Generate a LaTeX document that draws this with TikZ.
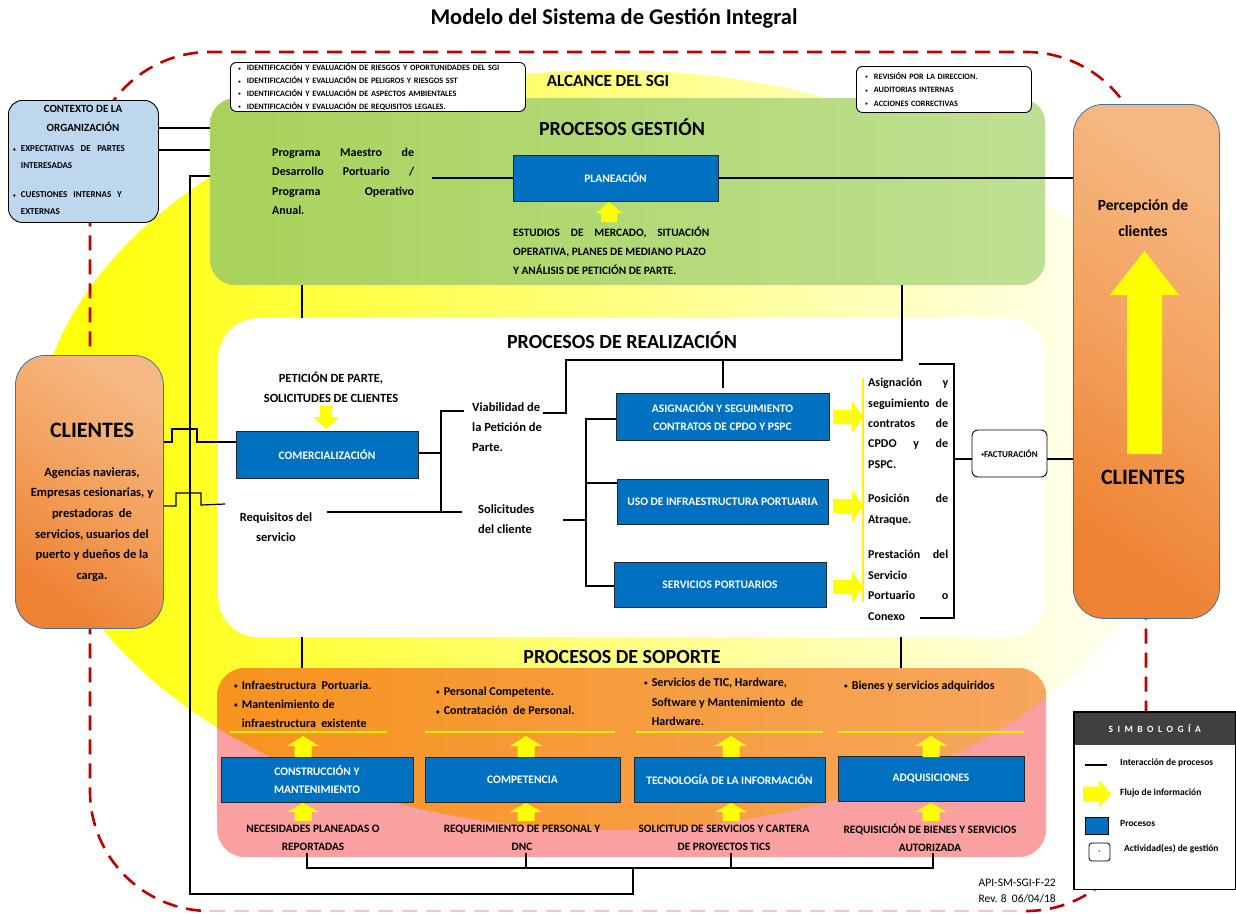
\documentclass[tikz,border=0pt]{standalone}
\usepackage{fontspec}
\usepackage{graphicx}
\setmainfont{Carlito}
\definecolor{procblue}{HTML}{0070C0}
\definecolor{ctxblue}{HTML}{BDD7EE}
\definecolor{gL}{HTML}{A8D25A}
\definecolor{gR}{HTML}{BEE093}
\definecolor{pinkc}{HTML}{FAA0A0}
\definecolor{orL}{HTML}{F7931E}
\definecolor{orR}{HTML}{F6A65E}
\definecolor{redd}{HTML}{C00000}
\definecolor{pinkd}{HTML}{F6C4C4}
\definecolor{oDark}{HTML}{EE8232}
\definecolor{oMid}{HTML}{F3A05C}
\definecolor{oLight}{HTML}{F6B882}
\definecolor{bord}{HTML}{41719C}
\definecolor{legdark}{HTML}{404040}
\definecolor{arrowy}{HTML}{FFFF00}
\newcommand\jline[2]{\makebox[#1][s]{#2}}
\newcommand\bul{\raisebox{0.12ex}{\scalebox{0.6}{\textbullet}}}
\newcommand\yup[6]{\fill[arrowy] (#1,#2) -- ({#1+#5},#3) -- ({#1+#6},#3) -- ({#1+#6},#4) -- ({#1-#6},#4) -- ({#1-#6},#3) -- ({#1-#5},#3) -- cycle;}
\newcommand\yright[6]{\fill[arrowy] (#2,#1) -- (#3,{#1-#5}) -- (#3,{#1-#6}) -- (#4,{#1-#6}) -- (#4,{#1+#6}) -- (#3,{#1+#6}) -- (#3,{#1+#5}) -- cycle;}
\begin{document}
\begin{tikzpicture}[x=1pt,y=-1pt,
  conn/.style={draw=black, line width=1.4pt},
  proc/.style={draw=black!85, line width=0.9pt, fill=procblue, text=white, font=\bfseries\fontsize{11.5}{18}\selectfont, align=center, inner sep=0pt},
  note/.style={draw=black, line width=0.9pt, fill=white, rounded corners=6pt},
  yl/.style={draw=yellow, line width=1.8pt},
  bl/.style={font=\bfseries\fontsize{12}{19}\selectfont, inner sep=0pt},
  caps/.style={font=\bfseries\fontsize{11.3}{18.5}\selectfont, inner sep=0pt, align=center},
  tiny/.style={font=\bfseries\fontsize{9}{12.4}\selectfont, inner sep=0pt, align=left},
  legt/.style={font=\bfseries\fontsize{9.5}{11}\selectfont, inner sep=0pt, anchor=west},
  orbox/.style={draw=bord, line width=0.8pt, rounded corners=30pt, bottom color=oDark, top color=oLight, middle color=oMid, shading angle=-35, inner sep=0pt, anchor=north west}
]
\fill[white] (0,0) rectangle (1236,913);
\useasboundingbox (0,0) rectangle (1236,913);

% yellow background ellipse
\shade[left color=yellow, middle color=yellow!32, right color=white] (610,450) ellipse [x radius=575pt, y radius=380pt];

% red dashed scope line
\draw[redd, line width=2.6pt, dash pattern=on 15pt off 9pt, rounded corners=120pt] (1026,911) -- (1146,911) -- (1146,52) -- (90,52) -- (90,911) -- (210,911);
\draw[pinkd, line width=2pt, dash pattern=on 15pt off 9pt] (210,911) -- (1026,911);

% title
\node[font=\bfseries\fontsize{22.5}{26}\selectfont] (title) at (614,18) {Modelo del Sistema de Gestión Integral};

% containers
\node[rounded corners=25pt, left color=gL, right color=gR, minimum width=835pt, minimum height=187pt, inner sep=0pt, anchor=north west] (gest) at (210,98) {};
\node[fill=white, rounded corners=40pt, minimum width=828pt, minimum height=319pt, inner sep=0pt, anchor=north west] (real) at (218,318) {};
\node[fill=pinkc, rounded corners=28pt, minimum width=829pt, minimum height=189pt, inner sep=0pt, anchor=north west] (sop) at (217,668) {};
\begin{scope}
\clip[rounded corners=28pt] (217,668) rectangle (1046,857);
\clip (610,450) ellipse [x radius=575pt, y radius=380pt];
\shade[left color=orL, right color=orR] (217,668) rectangle (1046,857);
\end{scope}

% notes
\node[note, minimum width=295pt, minimum height=49pt, text width=279pt, inner xsep=8pt, inner ysep=0pt, anchor=north west, align=left, font=\bfseries\fontsize{8.2}{12.8}\selectfont] (n1) at (230,62)
 {\bul\hspace{6pt}IDENTIFICACIÓN Y EVALUACIÓN DE RIESGOS Y OPORTUNIDADES DEL SGI\\
  \bul\hspace{6pt}IDENTIFICACIÓN Y EVALUACIÓN DE PELIGROS Y RIESGOS SST\\
  \bul\hspace{6pt}IDENTIFICACIÓN Y EVALUACIÓN DE ASPECTOS AMBIENTALES\\
  \bul\hspace{6pt}IDENTIFICACIÓN Y EVALUACIÓN DE REQUISITOS LEGALES.};
\node[note, minimum width=175pt, minimum height=46pt, text width=163pt, inner xsep=6pt, inner ysep=0pt, anchor=north west, align=left, font=\bfseries\fontsize{8.2}{13.5}\selectfont] (n2) at (856,66)
 {\hspace{3pt}\bul\hspace{6pt}REVISIÓN POR LA DIRECCION.\\
  \hspace{3pt}\bul\hspace{6pt}AUDITORIAS INTERNAS\\
  \hspace{3pt}\bul\hspace{6pt}ACCIONES CORRECTIVAS};

% gestion texts
\node[font=\bfseries\fontsize{17}{19}\selectfont] (alc) at (608,81) {ALCANCE DEL SGI};
\node[font=\bfseries\fontsize{20}{22}\selectfont] (pg) at (622,127) {PROCESOS GESTIÓN};
\node[bl, anchor=north west, align=left, font=\bfseries\fontsize{12}{19.2}\selectfont] (prog) at (272,148)
 {\jline{142pt}{Programa Maestro de}\\ \jline{142pt}{Desarrollo Portuario /}\\ \jline{142pt}{Programa Operativo}\\ Anual.};
\node[proc, minimum width=205pt, minimum height=46pt] (plan) at (615.5,178) {PLANEACIÓN};
\node[caps, anchor=north west, align=left, font=\bfseries\fontsize{11.3}{18.8}\selectfont] (est) at (513,227)
 {\jline{196pt}{ESTUDIOS DE MERCADO, SITUACIÓN}\\ OPERATIVA, PLANES DE MEDIANO PLAZO\\ Y ANÁLISIS DE PETICIÓN DE PARTE.};
\yup{609}{202}{213}{222}{13}{8}

% context box
\node[draw=black, line width=0.9pt, fill=ctxblue, rounded corners=14pt, minimum width=150pt, minimum height=122pt, inner sep=0pt, anchor=north west] (ctx) at (8,100) {};
\node[font=\bfseries\fontsize{11}{19}\selectfont, align=center] (ctxt) at (83,118.5) {CONTEXTO DE LA\\ORGANIZACIÓN};
\node[tiny, anchor=north west, font=\bfseries\fontsize{9}{17}\selectfont] (ctx1) at (13,145.5)
 {\bul\hspace{5pt}\jline{104pt}{EXPECTATIVAS DE PARTES}\\ \hphantom{\bul\hspace{5pt}}INTERESADAS};
\node[tiny, anchor=north west, font=\bfseries\fontsize{9}{16.5}\selectfont] (ctx2) at (13,191.5)
 {\bul\hspace{5pt}\jline{101pt}{CUESTIONES INTERNAS Y}\\ \hphantom{\bul\hspace{5pt}}EXTERNAS};

% client boxes
\node[orbox, minimum width=148pt, minimum height=273pt] (cliL) at (15,355) {};
\node[font=\bfseries\fontsize{22}{24}\selectfont] (cliLt) at (92,430) {CLIENTES};
\node[font=\bfseries\fontsize{12.5}{20.6}\selectfont, align=center] (cliLd) at (92,524.5)
 {Agencias navieras,\\Empresas cesionarias, y\\prestadoras\ \ de\\servicios, usuarios del\\puerto y dueños de la\\carga.};
\node[orbox, minimum width=146pt, minimum height=514pt] (cliR) at (1073,104) {};
\node[font=\bfseries\fontsize{15.5}{25.5}\selectfont, align=center] (perc) at (1143,218) {Percepción de\\clientes};
\yup{1144.5}{251}{295}{454}{34.5}{17.5}
\node[font=\bfseries\fontsize{22}{24}\selectfont] (cliRt) at (1143,477) {CLIENTES};

% realizacion
\node[font=\bfseries\fontsize{20}{22}\selectfont] (pr) at (622,340) {PROCESOS DE REALIZACIÓN};
\node[font=\bfseries\fontsize{12.5}{20}\selectfont, align=center] (pet) at (331,387) {PETICIÓN DE PARTE,\\SOLICITUDES DE CLIENTES};
\yup{326}{429}{417}{406}{13}{6}
\node[proc, minimum width=182pt, minimum height=47pt] (comer) at (327,454.5) {COMERCIALIZACIÓN};
\node[font=\bfseries\fontsize{12.5}{20}\selectfont, align=center] (req) at (276,527) {Requisitos del\\servicio};
\node[bl, anchor=north west, align=left, font=\bfseries\fontsize{12.5}{20}\selectfont] (via) at (472,402.5) {Viabilidad de\\la Petición de\\Parte.};
\node[bl, anchor=north west, align=left, font=\bfseries\fontsize{12.5}{20}\selectfont] (sol) at (478,504.5) {Solicitudes\\del cliente};
\node[proc, minimum width=213pt, minimum height=47pt] (asig) at (722.5,416.5) {ASIGNACIÓN Y SEGUIMIENTO\\CONTRATOS DE CPDO Y PSPC};
\node[proc, minimum width=211pt, minimum height=45pt] (uso) at (722.5,501.5) {USO DE INFRAESTRUCTURA PORTUARIA};
\node[proc, minimum width=212pt, minimum height=45pt] (serv) at (720,584.5) {SERVICIOS PORTUARIOS};
\yright{417}{863}{852}{833}{16}{7}
\yright{506}{863}{852}{833}{16}{7}
\yright{587}{863}{852}{833}{16}{7}
\draw[yl] (863,378) -- (863,602);
\node[bl, anchor=north west, align=left, font=\bfseries\fontsize{12}{20.4}\selectfont] (r1) at (868,378)
 {\jline{80pt}{Asignación y}\\ \jline{80pt}{seguimiento de}\\ \jline{80pt}{contratos de}\\ \jline{80pt}{CPDO y de}\\ PSPC.};
\node[bl, anchor=north west, align=left, font=\bfseries\fontsize{12}{21}\selectfont] (r2) at (868,494)
 {\jline{80pt}{Posición de}\\ Atraque.};
\node[bl, anchor=north west, align=left, font=\bfseries\fontsize{12}{20.5}\selectfont] (r3) at (868,550)
 {\jline{80pt}{Prestación del}\\ Servicio\\ \jline{80pt}{Portuario o}\\ Conexo};
\node[draw=black, line width=0.9pt, fill=white, rounded corners=6pt, minimum width=75pt, minimum height=47pt, inner sep=0pt, font=\bfseries\fontsize{9}{10}\selectfont] (fact) at (1009.5,453.5) {\bul FACTURACIÓN};

% soporte
\node[font=\bfseries\fontsize{20}{22}\selectfont] (ps) at (622,657) {PROCESOS DE SOPORTE};
\node[bl, anchor=north west, align=left, font=\bfseries\fontsize{12}{18.7}\selectfont] (s1) at (234,681)
 {\bul\hspace{4pt}Infraestructura\ \ Portuaria.\\ \bul\hspace{4pt}Mantenimiento de\\ \hphantom{\bul\hspace{4pt}}infraestructura\ \ existente};
\node[bl, anchor=north west, align=left, font=\bfseries\fontsize{12}{19.3}\selectfont] (s2) at (436,687)
 {\bul\hspace{4pt}Personal Competente.\\ \bul\hspace{4pt}Contratación\ \ de Personal.};
\node[bl, anchor=north west, align=left, font=\bfseries\fontsize{12}{19.5}\selectfont] (s3) at (644,678)
 {\bul\hspace{4pt}Servicios de TIC, Hardware,\\ \hphantom{\bul\hspace{4pt}}Software y Mantenimiento\ \ de\\ \hphantom{\bul\hspace{4pt}}Hardware.};
\node[bl, anchor=north west, align=left, font=\bfseries\fontsize{12}{19}\selectfont] (s4) at (844,681)
 {\bul\hspace{4pt}Bienes y servicios adquiridos};
\draw[yl] (230,732) -- (387,732);
\draw[yl] (425,732) -- (615,732);
\draw[yl] (636,732) -- (823,732);
\draw[yl] (838,732) -- (1024,732);
\node[proc, minimum width=192pt, minimum height=45pt] (cons) at (317,779.5) {CONSTRUCCIÓN Y\\MANTENIMIENTO};
\node[proc, minimum width=195pt, minimum height=45pt] (comp) at (522.5,779.5) {COMPETENCIA};
\node[proc, minimum width=191pt, minimum height=45pt] (tec) at (729.5,779.5) {TECNOLOGÍA DE LA INFORMACIÓN};
\node[proc, minimum width=186pt, minimum height=45pt] (adq) at (931,778.5) {ADQUISICIONES};
\foreach \cx in {303,526,731,931}{
  \yup{\cx}{736}{746}{757}{16}{8.5}
  \yup{\cx}{803}{812}{821}{16}{8.5}
}
\node[caps] (ne1) at (313,838) {NECESIDADES PLANEADAS O\\REPORTADAS};
\node[caps] (ne2) at (522,838) {REQUERIMIENTO DE PERSONAL Y\\DNC};
\node[caps] (ne3) at (724,838) {SOLICITUD DE SERVICIOS Y CARTERA\\DE PROYECTOS TICS};
\node[caps] (ne4) at (930,838) {REQUISICIÓN DE BIENES Y SERVICIOS\\AUTORIZADA};

% connectors
\coordinate (jL) at (190,176);
\coordinate (jB) at (190,894);
\coordinate (jM) at (633,894);
\coordinate (jT) at (633,868);
\draw[conn] (ctx.east |- 0,128) -- (gest.west |- 0,128);
\draw[conn] (ctx.east |- 0,150) -- (gest.west |- 0,150);
\draw[conn] (gest.west |- jL) -- (jL) -- (jB) -- (jM) -- (jT);
\draw[conn] (307,853) -- (307,868) -- (933,868) -- (933,853);
\draw[conn] (526,853) -- (526,868);
\draw[conn] (731,853) -- (731,868);
\draw[conn] (432,178) -- (plan.west);
\draw[conn] (plan.east) -- (cliR.west |- plan.east);
\draw[conn] (gest.south -| 302,0) -- (real.north -| 302,0);
\draw[conn] (gest.south -| 902,0) -- (902,360) -- (566,360) -- (566,413) -- (543,413);
\draw[conn] (723,360) -- (723,388);
\draw[conn] (comer.east |- 0,453) -- (441,453);
\draw[conn] (464,411) -- (441,411) -- (441,512) -- (462,512);
\draw[conn] (327,512) -- (441,512);
\draw[conn] (563,520) -- (586,520);
\draw[conn] (asig.west |- 0,419) -- (586,419) -- (586,586) -- (serv.west |- 0,586);
\draw[conn] (586,483) -- (uso.west |- 0,483);
\draw[conn] (919,364) -- (954,364) -- (954,618) -- (920,618);
\draw[conn] (954,459) -- (fact.west |- 0,459);
\draw[conn] (fact.east |- 0,459) -- (cliR.west |- 0,459);
\draw[line width=1.2pt] (cliL.east |- 0,442) -- (172,442) -- (172,429) -- (197,429) -- (197,442) -- (comer.west |- 0,442);
\draw[line width=1.2pt] (cliL.east |- 0,506) -- (176,506) -- (176,493) -- (201,493) -- (201,505) -- (225,504);
\draw[conn] (real.south -| 302,0) -- (sop.north -| 302,0);
\draw[conn] (real.south -| 901,0) -- (sop.north -| 901,0);

% legend
\node[fill=white, minimum width=161pt, minimum height=177pt, inner sep=0pt, anchor=north west] (leg) at (1074,712) {};
\node[fill=legdark, minimum width=161pt, minimum height=33pt, inner sep=0pt, anchor=north west, text=white, font=\bfseries\fontsize{9.5}{10}\selectfont] (legh) at (1074,712)
 {S\hspace{4.5pt}I\hspace{4.5pt}M\hspace{4.5pt}B\hspace{4.5pt}O\hspace{4.5pt}L\hspace{4.5pt}O\hspace{4.5pt}G\hspace{4.5pt}Í\hspace{4.5pt}A};
\draw[line width=1.6pt] (leg.north west) rectangle (leg.south east);
\coordinate (lg1) at (1085,765);
\coordinate (lg2) at (1107,765);
\draw[line width=1.5pt] (lg1) -- (lg2);
\node[legt] (lt1) at (1120,763) {Interacción de procesos};
\yright{794}{1111}{1099}{1083}{14}{7.5}
\node[legt] (lt2) at (1120,793) {Flujo de información};
\node[draw=black, line width=0.8pt, fill=procblue, minimum width=23pt, minimum height=17pt, inner sep=0pt] (lp) at (1096.5,825.5) {};
\node[legt] (lt3) at (1120,823) {Procesos};
\node[draw=black, line width=0.8pt, fill=white, rounded corners=3pt, minimum width=21pt, minimum height=18pt, inner sep=0pt, font=\fontsize{6}{6}\selectfont] (la) at (1099.5,852) {\bul};
\node[legt] (lt4) at (1124,849) {Actividad(es) de gestión};

\node[font=\fontsize{11.5}{13}\selectfont, anchor=east, inner sep=0pt] (code) at (1056,883) {API-SM-SGI-F-22};
\node[font=\fontsize{11.5}{13}\selectfont, anchor=east, inner sep=0pt] (rev) at (1056,899) {Rev. 8\ \ 06/04/18};
\end{tikzpicture}
\end{document}
